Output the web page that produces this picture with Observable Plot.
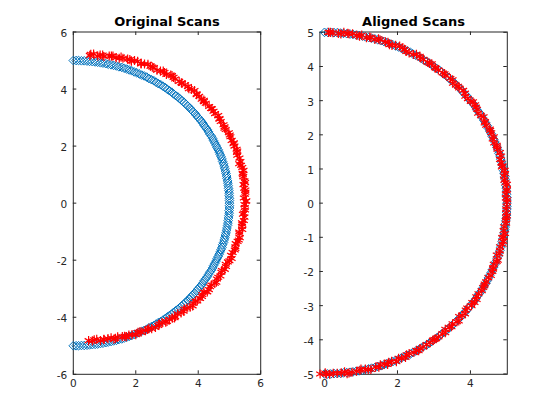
<!DOCTYPE html>
<html><head><meta charset="utf-8">
<script src="https://cdn.jsdelivr.net/npm/d3@7"></script>
<script src="https://cdn.jsdelivr.net/npm/@observablehq/plot@0.6"></script>
<style>
html,body{margin:0;padding:0;background:#fff;}
#fig{position:relative;width:560px;height:420px;background:#fff;font-family:"DejaVu Sans",sans-serif;overflow:hidden;}
#fig > div{position:absolute;top:0;}
</style></head><body>
<div id="fig"><div id="left" style="left:0"></div><div id="right" style="left:280px"></div></div>
<script>
const titles = ["Original Scans", "Aligned Scans"];

// model scan (blue diamonds), same in both panels — two interleaved sample sets
const blueX = [0,0.17,0.35,0.52,0.70,0.87,1.04,1.21,1.38,1.55,1.71,1.87,2.03,2.19,2.35,2.50,2.65,2.80,2.94,3.08,3.21,3.35,3.47,3.60,3.72,3.83,3.94,4.05,4.15,4.24,4.33,4.42,4.49,4.57,4.64,4.70,4.76,4.81,4.85,4.89,4.92,4.95,4.97,4.99,5.00,5.00,5.00,4.99,4.97,4.95,4.92,4.89,4.85,4.81,4.76,4.70,4.64,4.57,4.49,4.42,4.33,4.24,4.15,4.05,3.94,3.83,3.72,3.60,3.47,3.35,3.21,3.08,2.94,2.80,2.65,2.50,2.35,2.19,2.03,1.87,1.71,1.55,1.38,1.21,1.04,0.87,0.70,0.52,0.35,0.17,0];
const blueY = [5.00,5.00,4.99,4.97,4.95,4.92,4.89,4.85,4.81,4.76,4.70,4.64,4.57,4.49,4.42,4.33,4.24,4.15,4.05,3.94,3.83,3.72,3.60,3.47,3.35,3.21,3.08,2.94,2.80,2.65,2.50,2.35,2.19,2.03,1.87,1.71,1.55,1.38,1.21,1.04,0.87,0.70,0.52,0.35,0.17,0,-0.17,-0.35,-0.52,-0.70,-0.87,-1.04,-1.21,-1.38,-1.55,-1.71,-1.87,-2.03,-2.19,-2.35,-2.50,-2.65,-2.80,-2.94,-3.08,-3.21,-3.35,-3.47,-3.60,-3.72,-3.83,-3.94,-4.05,-4.15,-4.24,-4.33,-4.42,-4.49,-4.57,-4.64,-4.70,-4.76,-4.81,-4.85,-4.89,-4.92,-4.95,-4.97,-4.99,-5.00,-5.00];
const blueX2 = [0.09,0.26,0.44,0.61,0.78,0.95,1.12,1.29,1.46,1.63,1.79,1.95,2.11,2.27,2.42,2.58,2.72,2.87,3.01,3.15,3.28,3.41,3.54,3.66,3.77,3.89,3.99,4.10,4.19,4.29,4.37,4.46,4.53,4.60,4.67,4.73,4.78,4.83,4.87,4.91,4.94,4.96,4.98,4.99,5.00,5.00,4.99,4.98,4.96,4.94,4.91,4.87,4.83,4.78,4.73,4.67,4.60,4.53,4.46,4.37,4.29,4.19,4.10,3.99,3.89,3.77,3.66,3.54,3.41,3.28,3.15,3.01,2.87,2.72,2.58,2.42,2.27,2.11,1.95,1.79,1.63,1.46,1.29,1.12,0.95,0.78,0.61,0.44,0.26,0.09];
const blueY2 = [5.00,4.99,4.98,4.96,4.94,4.91,4.87,4.83,4.78,4.73,4.67,4.60,4.53,4.46,4.37,4.29,4.19,4.10,3.99,3.89,3.77,3.66,3.54,3.41,3.28,3.15,3.01,2.87,2.72,2.58,2.42,2.27,2.11,1.95,1.79,1.63,1.46,1.29,1.12,0.95,0.78,0.61,0.44,0.26,0.09,-0.09,-0.26,-0.44,-0.61,-0.78,-0.95,-1.12,-1.29,-1.46,-1.63,-1.79,-1.95,-2.11,-2.27,-2.42,-2.58,-2.72,-2.87,-3.01,-3.15,-3.28,-3.41,-3.54,-3.66,-3.77,-3.89,-3.99,-4.10,-4.19,-4.29,-4.37,-4.46,-4.53,-4.60,-4.67,-4.73,-4.78,-4.83,-4.87,-4.91,-4.94,-4.96,-4.98,-4.99,-5.00];

// original data scan (red asterisks, left panel)
const redX = [0.53,0.65,0.86,0.98,1.22,1.37,1.53,1.74,1.86,2.06,2.17,2.39,2.53,2.68,2.88,2.98,3.16,3.26,3.46,3.58,3.70,3.88,3.95,4.11,4.18,4.35,4.44,4.54,4.68,4.72,4.84,4.88,5.01,5.07,5.13,5.23,5.24,5.32,5.31,5.41,5.42,5.44,5.50,5.47,5.51,5.46,5.52,5.49,5.46,5.48,5.40,5.40,5.31,5.33,5.26,5.19,5.17,5.05,5.00,4.88,4.85,4.74,4.64,4.58,4.42,4.34,4.18,4.12,3.97,3.84,3.74,3.56,3.45,3.26,3.17,3.00,2.84,2.72,2.51,2.38,2.17,2.07,1.88,1.70,1.57,1.35,1.21,0.98,0.87,0.67,0.49];
const redY = [5.18,5.23,5.19,5.14,5.16,5.10,5.12,5.05,4.98,4.97,4.88,4.87,4.77,4.66,4.63,4.51,4.47,4.35,4.22,4.15,4.01,3.95,3.80,3.64,3.56,3.39,3.31,3.14,2.97,2.86,2.68,2.58,2.39,2.20,2.08,1.89,1.78,1.58,1.38,1.25,1.05,0.93,0.72,0.52,0.38,0.18,0.06,-0.15,-0.35,-0.49,-0.69,-0.81,-1.01,-1.21,-1.34,-1.53,-1.64,-1.83,-2.02,-2.14,-2.32,-2.42,-2.60,-2.77,-2.87,-3.03,-3.12,-3.27,-3.43,-3.51,-3.65,-3.71,-3.85,-3.98,-4.03,-4.15,-4.19,-4.29,-4.40,-4.43,-4.52,-4.53,-4.61,-4.68,-4.68,-4.74,-4.72,-4.77,-4.82,-4.79,-4.82];
const redX2 = [0.56,0.78,0.94,1.15,1.27,1.47,1.59,1.81,1.96,2.17,2.28,2.47,2.58,2.79,2.92,3.12,3.21,3.39,3.48,3.67,3.78,3.95,4.03,4.18,4.24,4.41,4.49,4.64,4.68,4.81,4.84,4.98,5.03,5.14,5.16,5.25,5.25,5.35,5.37,5.45,5.43,5.48,5.45,5.51,5.50,5.54,5.48,5.50,5.43,5.46,5.41,5.41,5.32,5.30,5.20,5.19,5.10,5.07,4.95,4.89,4.76,4.71,4.60,4.53,4.38,4.29,4.13,4.06,3.91,3.82,3.64,3.53,3.34,3.24,3.08,2.96,2.76,2.63,2.42,2.31,2.13,2.00,1.78,1.64,1.42,1.30,1.11,0.98,0.75,0.61];
const redY2 = [5.22,5.16,5.19,5.16,5.16,5.08,5.08,5.03,5.00,4.90,4.88,4.80,4.75,4.63,4.58,4.49,4.41,4.27,4.20,4.09,3.99,3.83,3.75,3.61,3.50,3.32,3.22,3.07,2.94,2.75,2.63,2.47,2.33,2.12,2.00,1.83,1.68,1.46,1.33,1.15,1.00,0.78,0.65,0.46,0.31,0.08,-0.05,-0.24,-0.39,-0.61,-0.74,-0.92,-1.07,-1.29,-1.42,-1.59,-1.73,-1.94,-2.06,-2.22,-2.36,-2.55,-2.66,-2.81,-2.93,-3.11,-3.20,-3.34,-3.44,-3.60,-3.68,-3.79,-3.88,-4.02,-4.08,-4.17,-4.24,-4.36,-4.39,-4.47,-4.51,-4.61,-4.62,-4.67,-4.69,-4.77,-4.75,-4.78,-4.77,-4.83];

// aligned data scan (red asterisks, right panel)
const alignedX = [0.11,0.23,0.45,0.64,0.77,0.96,1.15,1.27,1.48,1.67,1.78,1.95,2.13,2.24,2.44,2.61,2.71,2.88,3.03,3.12,3.29,3.45,3.52,3.66,3.80,3.86,4.01,4.13,4.18,4.29,4.40,4.43,4.54,4.64,4.65,4.73,4.81,4.81,4.88,4.94,4.92,4.96,5.00,4.97,5.01,4.99,4.98,4.98,4.98,4.91,4.91,4.90,4.81,4.79,4.75,4.64,4.62,4.56,4.43,4.38,4.31,4.16,4.11,4.03,3.87,3.77,3.68,3.51,3.42,3.31,3.12,3.01,2.89,2.70,2.58,2.45,2.25,2.11,1.97,1.76,1.64,1.49,1.27,1.12,0.97,0.75,0.62,0.46,0.24,0.05,-0.12];
const alignedY = [5.00,4.99,4.95,4.97,4.96,4.89,4.84,4.84,4.81,4.72,4.64,4.62,4.55,4.44,4.35,4.30,4.21,4.09,3.97,3.90,3.79,3.65,3.51,3.42,3.30,3.13,2.98,2.88,2.75,2.56,2.39,2.28,2.13,1.94,1.76,1.64,1.48,1.28,1.09,0.96,0.80,0.60,0.40,0.27,0.10,-0.10,-0.29,-0.43,-0.59,-0.80,-0.99,-1.12,-1.28,-1.48,-1.67,-1.79,-1.93,-2.12,-2.30,-2.42,-2.56,-2.74,-2.91,-3.00,-3.13,-3.29,-3.45,-3.53,-3.64,-3.79,-3.92,-3.99,-4.08,-4.21,-4.32,-4.37,-4.44,-4.54,-4.64,-4.66,-4.71,-4.80,-4.87,-4.86,-4.89,-4.95,-4.99,-4.97,-4.98,-5.01,-5.00];
const alignedX2 = [0.16,0.38,0.53,0.67,0.89,1.02,1.24,1.38,1.52,1.74,1.85,2.06,2.19,2.32,2.52,2.64,2.83,2.94,3.05,3.24,3.33,3.51,3.60,3.69,3.85,3.93,4.07,4.15,4.21,4.36,4.39,4.53,4.57,4.61,4.72,4.74,4.84,4.85,4.86,4.95,4.93,5.00,4.99,4.97,5.00,4.98,5.00,4.97,4.92,4.95,4.87,4.88,4.81,4.72,4.72,4.62,4.60,4.49,4.39,4.35,4.22,4.17,4.05,3.91,3.85,3.69,3.63,3.48,3.31,3.23,3.06,2.97,2.80,2.62,2.52,2.32,2.22,2.03,1.84,1.73,1.53,1.40,1.20,1.00,0.88,0.67,0.55,0.35,0.14,0.02];
const alignedY2 = [5.00,4.97,5.00,4.96,4.91,4.92,4.86,4.79,4.78,4.71,4.62,4.60,4.50,4.40,4.36,4.25,4.12,4.08,3.95,3.81,3.74,3.61,3.46,3.37,3.22,3.06,2.97,2.81,2.63,2.53,2.35,2.17,2.06,1.88,1.69,1.58,1.38,1.18,1.06,0.87,0.67,0.55,0.36,0.15,0.03,-0.17,-0.37,-0.50,-0.69,-0.89,-1.01,-1.20,-1.40,-1.52,-1.71,-1.89,-2.00,-2.18,-2.37,-2.47,-2.65,-2.82,-2.91,-3.07,-3.24,-3.32,-3.47,-3.62,-3.69,-3.82,-3.97,-4.01,-4.14,-4.26,-4.31,-4.40,-4.52,-4.54,-4.63,-4.72,-4.73,-4.80,-4.87,-4.86,-4.92,-4.97,-4.94,-4.98,-5.01,-4.97];

const leftXTicks = [0, 2, 4, 6];
const leftYTicks = [-6, -4, -2, 0, 2, 4, 6];
const rightXTicks = [0, 2, 4];
const rightYTicks = [-5, -4, -3, -2, -1, 0, 1, 2, 3, 4, 5];

const pts = (xs, ys) => xs.slice(0, Math.min(xs.length, ys.length)).map((x, i) => ({x, y: ys[i]}));

const INK = "#262626";
function panel({title, xDomain, yDomain, xTicks, yTicks, blue, red, mL, mR}) {
  const W = 280, H = 420, mT = 31.5, mB = 46.2, tl = 3.5;
  const fw = W - mL - mR, fh = H - mT - mB;
  return Plot.plot({
    width: W, height: H,
    marginLeft: mL, marginRight: mR, marginTop: mT, marginBottom: mB,
    style: {fontFamily: "'DejaVu Sans', sans-serif", fontSize: "10.5px", color: INK, background: "transparent", overflow: "visible"},
    x: {domain: xDomain},
    y: {domain: yDomain},
    marks: [
      Plot.frame({stroke: INK, strokeWidth: 1}),
      Plot.ruleX(xTicks, {x: d => d, insetTop: fh - tl, stroke: INK}),
      Plot.ruleX(xTicks, {x: d => d, insetBottom: fh - tl, stroke: INK}),
      Plot.ruleY(yTicks, {y: d => d, insetRight: fw - tl, stroke: INK}),
      Plot.ruleY(yTicks, {y: d => d, insetLeft: fw - tl, stroke: INK}),
      Plot.axisX({ticks: xTicks, tickSize: 0, tickPadding: 5, label: null, tickFormat: d => String(d)}),
      Plot.axisY({ticks: yTicks, tickSize: 0, tickPadding: 6, label: null, dy: 1.5, tickFormat: d => String(d)}),
      Plot.dot(blue, {x: "x", y: "y", symbol: "diamond2", r: 3.9, stroke: "#0072BD", fill: "none", strokeWidth: 1}),
      Plot.dot(red, {x: "x", y: "y", symbol: "asterisk", r: 4.3, stroke: "#FF0000", strokeWidth: 1.2}),
      Plot.text([title], {frameAnchor: "top", dy: -15.5, fontWeight: "bold", fontSize: 13, fill: "#000"})
    ]
  });
}

const blueAll = pts(blueX, blueY).concat(pts(blueX2, blueY2));
document.getElementById("left").appendChild(panel({
  title: titles[0], xDomain: [0, 6], yDomain: [-6, 6],
  xTicks: leftXTicks, yTicks: leftYTicks,
  blue: blueAll, red: pts(redX, redY).concat(pts(redX2, redY2)), mL: 72.8, mR: 19.8
}));
document.getElementById("right").appendChild(panel({
  title: titles[1], xDomain: [-0.126, 5.01], yDomain: [-5.01, 5.01],
  xTicks: rightXTicks, yTicks: rightYTicks,
  blue: blueAll, red: pts(alignedX, alignedY).concat(pts(alignedX2, alignedY2)), mL: 39.4, mR: 53.2
}));
</script>
</body></html>
